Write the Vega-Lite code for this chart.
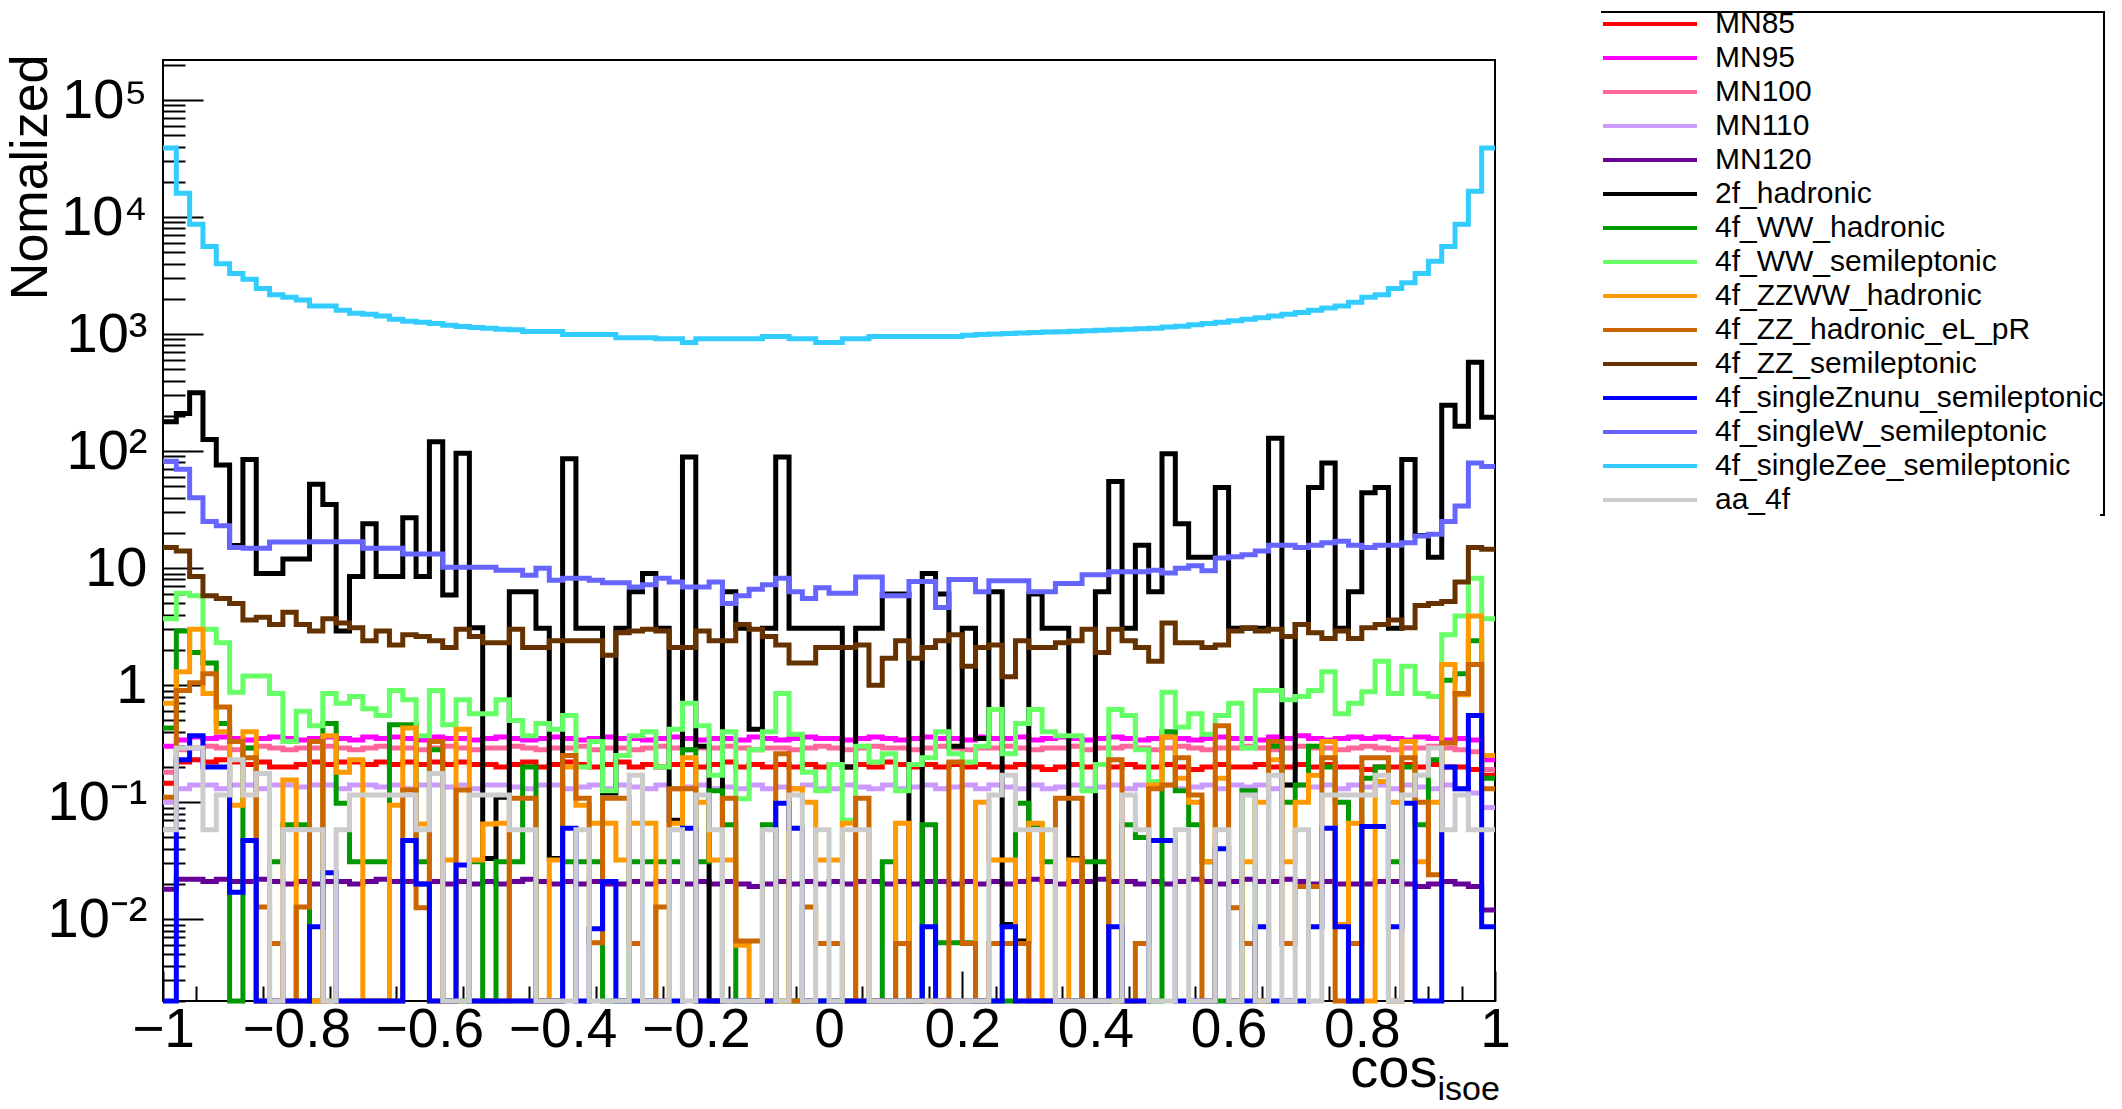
{
"$schema":"https://vega.github.io/schema/vega-lite/v6.json",
"width":1332,"height":941,
"autosize":{"type":"none"},
"padding":{"left":163,"top":60,"right":627,"bottom":108},
"background":"white",
"config":{"view":{"stroke":"black","strokeWidth":2},"font":"Liberation Sans"},
"datasets":{
"names":[{"k":"a","series":"MN85"},{"k":"b","series":"MN95"},{"k":"c","series":"MN100"},{"k":"d","series":"MN110"},{"k":"e","series":"MN120"},{"k":"f","series":"2f_hadronic"},{"k":"g","series":"4f_WW_hadronic"},{"k":"h","series":"4f_WW_semileptonic"},{"k":"i","series":"4f_ZZWW_hadronic"},{"k":"j","series":"4f_ZZ_hadronic_eL_pR"},{"k":"k","series":"4f_ZZ_semileptonic"},{"k":"l","series":"4f_singleZnunu_semileptonic"},{"k":"m","series":"4f_singleW_semileptonic"},{"k":"n","series":"4f_singleZee_semileptonic"},{"k":"o","series":"aa_4f"}],
"hist":[
{"x":-1,"a":0.145,"b":0.3,"c":0.18,"d":0.1,"e":0.018,"f":178,"g":0.43,"h":3.7,"i":0.7,"j":0.11,"k":15,"l":0,"m":82,"n":39000,"o":0.058},
{"x":-0.98,"a":0.22,"b":0.34,"c":0.28,"d":0.13,"e":0.022,"f":210,"g":2.9,"h":6.1,"i":1.3,"j":0.9,"k":14,"l":0.23,"m":70,"n":16000,"o":0.29},
{"x":-0.96,"a":0.23,"b":0.36,"c":0.29,"d":0.14,"e":0.022,"f":315,"g":1.9,"h":5.8,"i":3,"j":1.05,"k":8.5,"l":0.37,"m":40,"n":8700,"o":0.29},
{"x":-0.94,"a":0.22,"b":0.35,"c":0.3,"d":0.14,"e":0.021,"f":126,"g":1.55,"h":3,"i":0.85,"j":1.25,"k":5.8,"l":0.2,"m":25,"n":5600,"o":0.058},
{"x":-0.92,"a":0.23,"b":0.36,"c":0.29,"d":0.13,"e":0.022,"f":76,"g":0.47,"h":2.3,"i":0.4,"j":0.65,"k":5.5,"l":0.2,"m":23,"n":4000,"o":0.115},
{"x":-0.9,"a":0.22,"b":0.35,"c":0.28,"d":0.14,"e":0.021,"f":15.6,"g":0,"h":0.87,"i":0.094,"j":0.33,"k":5,"l":0.017,"m":15,"n":3300,"o":0.23},
{"x":-0.88,"a":0.21,"b":0.34,"c":0.29,"d":0.14,"e":0.021,"f":85,"g":0.29,"h":1.2,"i":0.4,"j":0.24,"k":3.6,"l":0.047,"m":14.8,"n":2950,"o":0.115},
{"x":-0.86,"a":0.22,"b":0.35,"c":0.3,"d":0.13,"e":0.022,"f":9,"g":0,"h":1.2,"i":0,"j":0.0127,"k":3.8,"l":0,"m":14.8,"n":2450,"o":0.176},
{"x":-0.84,"a":0.2,"b":0.36,"c":0.29,"d":0.14,"e":0.021,"f":9,"g":0.031,"h":0.85,"i":0,"j":0.0062,"k":3.3,"l":0,"m":16.7,"n":2170,"o":0},
{"x":-0.82,"a":0.2,"b":0.35,"c":0.28,"d":0.14,"e":0.02,"f":12,"g":0.064,"h":0.33,"i":0.155,"j":0,"k":4.2,"l":0,"m":16.7,"n":2070,"o":0.058},
{"x":-0.8,"a":0.21,"b":0.34,"c":0.29,"d":0.135,"e":0.021,"f":12,"g":0.064,"h":0.6,"i":0,"j":0.0127,"k":3.3,"l":0,"m":16.7,"n":1960,"o":0.058},
{"x":-0.78,"a":0.22,"b":0.35,"c":0.29,"d":0.14,"e":0.02,"f":52,"g":0,"h":0.45,"i":0,"j":0.33,"k":2.9,"l":0.0086,"m":16.8,"n":1740,"o":0.058},
{"x":-0.76,"a":0.21,"b":0.36,"c":0.3,"d":0.14,"e":0.021,"f":35,"g":0.47,"h":0.85,"i":0.37,"j":0,"k":3.7,"l":0.025,"m":16.8,"n":1740,"o":0},
{"x":-0.74,"a":0.22,"b":0.35,"c":0.29,"d":0.13,"e":0.021,"f":2.9,"g":0.098,"h":0.7,"i":0.18,"j":0,"k":3.4,"l":0,"m":16.8,"n":1600,"o":0.058},
{"x":-0.72,"a":0.22,"b":0.34,"c":0.28,"d":0.14,"e":0.02,"f":8.5,"g":0.031,"h":0.8,"i":0.23,"j":0,"k":3.1,"l":0,"m":16.8,"n":1510,"o":0.115},
{"x":-0.7,"a":0.21,"b":0.36,"c":0.29,"d":0.14,"e":0.021,"f":24,"g":0.031,"h":0.63,"i":0,"j":0,"k":2.4,"l":0,"m":14.8,"n":1480,"o":0.115},
{"x":-0.68,"a":0.22,"b":0.35,"c":0.3,"d":0.135,"e":0.022,"f":8.5,"g":0.031,"h":0.55,"i":0,"j":0,"k":2.9,"l":0,"m":14.8,"n":1430,"o":0.115},
{"x":-0.66,"a":0.21,"b":0.36,"c":0.29,"d":0.14,"e":0.021,"f":8.5,"g":0.46,"h":0.9,"i":0.094,"j":0,"k":2.2,"l":0,"m":14.8,"n":1340,"o":0.115},
{"x":-0.64,"a":0.22,"b":0.35,"c":0.29,"d":0.13,"e":0.021,"f":27,"g":0.46,"h":0.75,"i":0.43,"j":0.127,"k":2.7,"l":0.047,"m":13.2,"n":1290,"o":0.115},
{"x":-0.62,"a":0.21,"b":0.34,"c":0.28,"d":0.14,"e":0.02,"f":8.5,"g":0.031,"h":0.37,"i":0.065,"j":0.0125,"k":2.6,"l":0.02,"m":13.2,"n":1260,"o":0.058},
{"x":-0.6,"a":0.22,"b":0.36,"c":0.29,"d":0.14,"e":0.021,"f":120,"g":0.28,"h":0.9,"i":0,"j":0.33,"k":2.4,"l":0,"m":13.2,"n":1230,"o":0.176},
{"x":-0.58,"a":0.21,"b":0.35,"c":0.3,"d":0.135,"e":0.02,"f":5.9,"g":0,"h":0.46,"i":0.032,"j":0,"k":2.1,"l":0,"m":10.2,"n":1190,"o":0},
{"x":-0.56,"a":0.22,"b":0.35,"c":0.29,"d":0.14,"e":0.021,"f":96,"g":0,"h":0.75,"i":0.42,"j":0.127,"k":3,"l":0.029,"m":10.2,"n":1160,"o":0},
{"x":-0.54,"a":0.21,"b":0.34,"c":0.28,"d":0.13,"e":0.02,"f":3.1,"g":0.031,"h":0.57,"i":0.032,"j":0,"k":2.6,"l":0,"m":10.2,"n":1140,"o":0.115},
{"x":-0.52,"a":0.21,"b":0.35,"c":0.29,"d":0.14,"e":0.021,"f":0.033,"g":0,"h":0.57,"i":0.065,"j":0,"k":2.3,"l":0,"m":10.2,"n":1120,"o":0.115},
{"x":-0.5,"a":0.2,"b":0.36,"c":0.29,"d":0.14,"e":0.02,"f":0.11,"g":0.031,"h":0.75,"i":0.066,"j":0,"k":2.3,"l":0,"m":9.6,"n":1100,"o":0.115},
{"x":-0.48,"a":0.21,"b":0.35,"c":0.3,"d":0.135,"e":0.021,"f":6.3,"g":0.031,"h":0.5,"i":0,"j":0.108,"k":3,"l":0,"m":9.6,"n":1090,"o":0.058},
{"x":-0.46,"a":0.22,"b":0.34,"c":0.29,"d":0.13,"e":0.022,"f":6.3,"g":0.2,"h":0.37,"i":0,"j":0.108,"k":2.1,"l":0,"m":8.7,"n":1052,"o":0.058},
{"x":-0.44,"a":0.2,"b":0.35,"c":0.28,"d":0.14,"e":0.021,"f":3.07,"g":0,"h":0.47,"i":0,"j":0,"k":2.1,"l":0,"m":10,"n":1052,"o":0},
{"x":-0.42,"a":0.21,"b":0.36,"c":0.29,"d":0.14,"e":0.02,"f":0.033,"g":0,"h":0.42,"i":0.032,"j":0,"k":2.4,"l":0,"m":7.9,"n":1052,"o":0},
{"x":-0.4,"a":0.22,"b":0.35,"c":0.29,"d":0.13,"e":0.021,"f":86,"g":0.031,"h":0.55,"i":0.2,"j":0.25,"k":2.4,"l":0.06,"m":8.2,"n":992,"o":0},
{"x":-0.38,"a":0.21,"b":0.34,"c":0.3,"d":0.135,"e":0.02,"f":3.07,"g":0.031,"h":0.2,"i":0.094,"j":0.108,"k":2.4,"l":0,"m":8.2,"n":992,"o":0.058},
{"x":-0.36,"a":0.2,"b":0.35,"c":0.28,"d":0.14,"e":0.021,"f":3.07,"g":0.031,"h":0.33,"i":0.066,"j":0.0063,"k":2.4,"l":0.0083,"m":7.9,"n":992,"o":0},
{"x":-0.34,"a":0.21,"b":0.36,"c":0.29,"d":0.13,"e":0.02,"f":0.12,"g":0,"h":0.125,"i":0.066,"j":0.108,"k":1.8,"l":0.021,"m":7.5,"n":992,"o":0},
{"x":-0.32,"a":0.22,"b":0.35,"c":0.29,"d":0.14,"e":0.02,"f":3.07,"g":0,"h":0.25,"i":0.032,"j":0.108,"k":2.8,"l":0,"m":7.5,"n":933,"o":0},
{"x":-0.3,"a":0.2,"b":0.35,"c":0.28,"d":0.135,"e":0.021,"f":6.3,"g":0.031,"h":0.37,"i":0.066,"j":0.0062,"k":2.9,"l":0,"m":6.9,"n":933,"o":0.17},
{"x":-0.28,"a":0.21,"b":0.34,"c":0.29,"d":0.13,"e":0.02,"f":9,"g":0.031,"h":0.4,"i":0.066,"j":0,"k":3,"l":0,"m":7.2,"n":933,"o":0},
{"x":-0.26,"a":0.2,"b":0.35,"c":0.3,"d":0.14,"e":0.021,"f":3.07,"g":0.031,"h":0.2,"i":0,"j":0.0127,"k":2.9,"l":0,"m":8.2,"n":912,"o":0},
{"x":-0.24,"a":0.21,"b":0.36,"c":0.29,"d":0.13,"e":0.021,"f":0.07,"g":0.031,"h":0.42,"i":0.066,"j":0.13,"k":2.1,"l":0,"m":7.6,"n":912,"o":0.058},
{"x":-0.22,"a":0.21,"b":0.35,"c":0.28,"d":0.135,"e":0.02,"f":89,"g":0.28,"h":0.7,"i":0.24,"j":0.13,"k":2.1,"l":0.06,"m":6.9,"n":847,"o":0},
{"x":-0.2,"a":0.2,"b":0.34,"c":0.29,"d":0.14,"e":0.021,"f":0.3,"g":0.031,"h":0.45,"i":0.1,"j":0,"k":2.9,"l":0,"m":6.9,"n":912,"o":0.115},
{"x":-0.18,"a":0.21,"b":0.35,"c":0.29,"d":0.13,"e":0.02,"f":0,"g":0.125,"h":0.17,"i":0.032,"j":0,"k":2.4,"l":0,"m":7.6,"n":912,"o":0.058},
{"x":-0.16,"a":0.22,"b":0.35,"c":0.3,"d":0.135,"e":0.021,"f":6.3,"g":0.064,"h":0.4,"i":0.032,"j":0.108,"k":2.4,"l":0,"m":5,"n":912,"o":0},
{"x":-0.14,"a":0.2,"b":0.34,"c":0.29,"d":0.13,"e":0.02,"f":3.07,"g":0,"h":0.107,"i":0.006,"j":0.0065,"k":3.3,"l":0,"m":5.8,"n":912,"o":0},
{"x":-0.12,"a":0.21,"b":0.36,"c":0.28,"d":0.14,"e":0.019,"f":0.42,"g":0,"h":0.28,"i":0,"j":0.0065,"k":3,"l":0,"m":6.6,"n":912,"o":0},
{"x":-0.1,"a":0.2,"b":0.35,"c":0.29,"d":0.13,"e":0.02,"f":3.07,"g":0.064,"h":0.4,"i":0,"j":0,"k":2.6,"l":0,"m":7.2,"n":955,"o":0.058},
{"x":-0.08,"a":0.21,"b":0.34,"c":0.29,"d":0.135,"e":0.021,"f":89,"g":0,"h":0.85,"i":0,"j":0.26,"k":2.2,"l":0.098,"m":8.2,"n":955,"o":0},
{"x":-0.06,"a":0.2,"b":0.35,"c":0.28,"d":0.13,"e":0.02,"f":3.07,"g":0,"h":0.38,"i":0.13,"j":0,"k":1.55,"l":0.06,"m":6.3,"n":912,"o":0.115},
{"x":-0.04,"a":0.21,"b":0.36,"c":0.29,"d":0.14,"e":0.021,"f":3.07,"g":0,"h":0.18,"i":0.1,"j":0.0127,"k":1.55,"l":0,"m":5.5,"n":912,"o":0},
{"x":-0.02,"a":0.2,"b":0.35,"c":0.3,"d":0.13,"e":0.02,"f":3.07,"g":0,"h":0.125,"i":0.032,"j":0.0062,"k":2.1,"l":0,"m":6.8,"n":847,"o":0.058},
{"x":0,"a":0.21,"b":0.35,"c":0.29,"d":0.13,"e":0.021,"f":3.07,"g":0,"h":0.21,"i":0.032,"j":0.0062,"k":2.1,"l":0,"m":6.1,"n":847,"o":0},
{"x":0.02,"a":0.2,"b":0.34,"c":0.28,"d":0.14,"e":0.02,"f":0.2,"g":0,"h":0.07,"i":0.066,"j":0,"k":2.1,"l":0,"m":6.1,"n":912,"o":0.058},
{"x":0.04,"a":0.21,"b":0.35,"c":0.29,"d":0.135,"e":0.021,"f":3.07,"g":0,"h":0.3,"i":0,"j":0.108,"k":2.2,"l":0,"m":8.4,"n":912,"o":0.058},
{"x":0.06,"a":0.2,"b":0.36,"c":0.3,"d":0.13,"e":0.021,"f":3.07,"g":0,"h":0.22,"i":0,"j":0,"k":1,"l":0,"m":8.4,"n":955,"o":0},
{"x":0.08,"a":0.22,"b":0.35,"c":0.29,"d":0.14,"e":0.02,"f":6,"g":0.031,"h":0.26,"i":0,"j":0,"k":1.7,"l":0,"m":5.8,"n":955,"o":0},
{"x":0.1,"a":0.21,"b":0.34,"c":0.29,"d":0.13,"e":0.021,"f":6,"g":0,"h":0.125,"i":0.066,"j":0.0062,"k":2.4,"l":0,"m":5.8,"n":955,"o":0},
{"x":0.12,"a":0.2,"b":0.35,"c":0.28,"d":0.135,"e":0.02,"f":0,"g":0,"h":0.21,"i":0,"j":0,"k":1.7,"l":0,"m":7.7,"n":955,"o":0},
{"x":0.14,"a":0.21,"b":0.36,"c":0.29,"d":0.14,"e":0.021,"f":9,"g":0.064,"h":0.24,"i":0,"j":0,"k":2.1,"l":0.0086,"m":7.7,"n":955,"o":0},
{"x":0.16,"a":0.2,"b":0.35,"c":0.3,"d":0.13,"e":0.021,"f":6,"g":0.0063,"h":0.4,"i":0,"j":0,"k":2.4,"l":0,"m":4.6,"n":955,"o":0},
{"x":0.18,"a":0.21,"b":0.35,"c":0.29,"d":0.135,"e":0.02,"f":0.3,"g":0.0063,"h":0.26,"i":0,"j":0.22,"k":2.7,"l":0,"m":8,"n":955,"o":0},
{"x":0.2,"a":0.2,"b":0.34,"c":0.28,"d":0.14,"e":0.021,"f":3.07,"g":0.0063,"h":0.22,"i":0,"j":0.0062,"k":1.45,"l":0,"m":8,"n":980,"o":0},
{"x":0.22,"a":0.21,"b":0.36,"c":0.29,"d":0.13,"e":0.02,"f":0.35,"g":0,"h":0.3,"i":0.1,"j":0,"k":2.1,"l":0,"m":6.3,"n":990,"o":0},
{"x":0.24,"a":0.2,"b":0.35,"c":0.29,"d":0.14,"e":0.021,"f":6.3,"g":0,"h":0.62,"i":0.032,"j":0.0062,"k":2.2,"l":0,"m":7.8,"n":1000,"o":0.115},
{"x":0.26,"a":0.2,"b":0.35,"c":0.3,"d":0.135,"e":0.02,"f":0.009,"g":0,"h":0.26,"i":0.032,"j":0.0062,"k":1.18,"l":0.0086,"m":7.8,"n":1010,"o":0.17},
{"x":0.28,"a":0.21,"b":0.36,"c":0.29,"d":0.13,"e":0.021,"f":0.0065,"g":0.098,"h":0.47,"i":0,"j":0.0062,"k":2.4,"l":0,"m":7.8,"n":1020,"o":0.058},
{"x":0.3,"a":0.2,"b":0.34,"c":0.28,"d":0.14,"e":0.022,"f":6,"g":0.064,"h":0.62,"i":0.066,"j":0,"k":2.1,"l":0,"m":6.3,"n":1030,"o":0.058},
{"x":0.32,"a":0.19,"b":0.35,"c":0.29,"d":0.13,"e":0.021,"f":3.07,"g":0.031,"h":0.4,"i":0,"j":0,"k":2.1,"l":0,"m":6.3,"n":1040,"o":0.058},
{"x":0.34,"a":0.2,"b":0.36,"c":0.29,"d":0.135,"e":0.02,"f":3.07,"g":0,"h":0.37,"i":0,"j":0.108,"k":2.3,"l":0,"m":7.4,"n":1050,"o":0},
{"x":0.36,"a":0.21,"b":0.35,"c":0.3,"d":0.14,"e":0.021,"f":0.033,"g":0,"h":0.37,"i":0.032,"j":0.108,"k":2.4,"l":0,"m":7.4,"n":1060,"o":0},
{"x":0.38,"a":0.2,"b":0.34,"c":0.28,"d":0.13,"e":0.021,"f":0,"g":0.031,"h":0.125,"i":0,"j":0,"k":3,"l":0,"m":8.8,"n":1070,"o":0},
{"x":0.4,"a":0.21,"b":0.35,"c":0.29,"d":0.135,"e":0.022,"f":6.3,"g":0.031,"h":0.21,"i":0,"j":0,"k":1.9,"l":0,"m":8.8,"n":1080,"o":0},
{"x":0.42,"a":0.2,"b":0.36,"c":0.29,"d":0.14,"e":0.021,"f":55,"g":0,"h":0.62,"i":0,"j":0.23,"k":3,"l":0.0086,"m":9.3,"n":1090,"o":0},
{"x":0.44,"a":0.21,"b":0.35,"c":0.3,"d":0.13,"e":0.021,"f":3.07,"g":0.064,"h":0.55,"i":0,"j":0,"k":2.4,"l":0,"m":9.3,"n":1100,"o":0.115},
{"x":0.46,"a":0.2,"b":0.34,"c":0.29,"d":0.14,"e":0.02,"f":15.7,"g":0.05,"h":0.28,"i":0,"j":0.0062,"k":2.1,"l":0,"m":9.3,"n":1110,"o":0.058},
{"x":0.48,"a":0.2,"b":0.35,"c":0.28,"d":0.135,"e":0.021,"f":6.3,"g":0,"h":0.15,"i":0.14,"j":0.13,"k":1.6,"l":0.047,"m":9.6,"n":1120,"o":0},
{"x":0.5,"a":0.21,"b":0.36,"c":0.29,"d":0.14,"e":0.02,"f":95,"g":0.4,"h":0.87,"i":0.36,"j":0.14,"k":3.4,"l":0.047,"m":9.1,"n":1150,"o":0},
{"x":0.52,"a":0.2,"b":0.35,"c":0.3,"d":0.13,"e":0.021,"f":24,"g":0.125,"h":0.44,"i":0.16,"j":0.24,"k":2.3,"l":0,"m":10,"n":1170,"o":0.058},
{"x":0.54,"a":0.19,"b":0.34,"c":0.29,"d":0.135,"e":0.022,"f":12.4,"g":0.064,"h":0.57,"i":0.1,"j":0.115,"k":2.3,"l":0,"m":10.5,"n":1200,"o":0},
{"x":0.56,"a":0.2,"b":0.35,"c":0.28,"d":0.14,"e":0.021,"f":12.4,"g":0.031,"h":0.38,"i":0.031,"j":0,"k":2.1,"l":0,"m":9.5,"n":1230,"o":0},
{"x":0.58,"a":0.21,"b":0.36,"c":0.29,"d":0.13,"e":0.02,"f":49,"g":0,"h":0.55,"i":0.16,"j":0.45,"k":2.2,"l":0.04,"m":12.2,"n":1260,"o":0.058},
{"x":0.6,"a":0.2,"b":0.35,"c":0.29,"d":0.14,"e":0.021,"f":3.07,"g":0,"h":0.7,"i":0,"j":0.0125,"k":2.9,"l":0,"m":12.5,"n":1300,"o":0},
{"x":0.62,"a":0.2,"b":0.35,"c":0.3,"d":0.135,"e":0.022,"f":3.07,"g":0.125,"h":0.29,"i":0.031,"j":0.0062,"k":3.1,"l":0,"m":13,"n":1340,"o":0.115},
{"x":0.64,"a":0.21,"b":0.34,"c":0.29,"d":0.14,"e":0.021,"f":3.07,"g":0,"h":0.9,"i":0.1,"j":0,"k":2.9,"l":0.0086,"m":14,"n":1380,"o":0},
{"x":0.66,"a":0.2,"b":0.36,"c":0.28,"d":0.13,"e":0.021,"f":129,"g":0.3,"h":0.9,"i":0.23,"j":0.33,"k":3,"l":0,"m":15.7,"n":1430,"o":0.17},
{"x":0.68,"a":0.2,"b":0.35,"c":0.29,"d":0.14,"e":0.022,"f":0.14,"g":0.1,"h":0.75,"i":0.031,"j":0.0062,"k":2.6,"l":0,"m":15.7,"n":1480,"o":0},
{"x":0.7,"a":0.21,"b":0.37,"c":0.3,"d":0.14,"e":0.021,"f":3.3,"g":0.14,"h":0.8,"i":0.1,"j":0.019,"k":3.3,"l":0,"m":15,"n":1530,"o":0.058},
{"x":0.72,"a":0.2,"b":0.35,"c":0.29,"d":0.135,"e":0.02,"f":49,"g":0.3,"h":0.9,"i":0.17,"j":0.019,"k":2.8,"l":0.0086,"m":15.7,"n":1600,"o":0},
{"x":0.74,"a":0.21,"b":0.34,"c":0.29,"d":0.14,"e":0.021,"f":79,"g":0.2,"h":1.3,"i":0.33,"j":0.24,"k":2.5,"l":0.06,"m":16.5,"n":1670,"o":0.115},
{"x":0.76,"a":0.2,"b":0.35,"c":0.28,"d":0.13,"e":0.02,"f":3.07,"g":0.1,"h":0.57,"i":0.009,"j":0,"k":2.9,"l":0.0086,"m":17,"n":1740,"o":0.115},
{"x":0.78,"a":0.2,"b":0.36,"c":0.29,"d":0.14,"e":0.02,"f":6.3,"g":0,"h":0.7,"i":0.066,"j":0.0062,"k":2.5,"l":0,"m":15.7,"n":1870,"o":0.115},
{"x":0.8,"a":0.19,"b":0.35,"c":0.3,"d":0.135,"e":0.02,"f":44,"g":0.16,"h":0.88,"i":0,"j":0.24,"k":3.1,"l":0.062,"m":15,"n":2070,"o":0.115},
{"x":0.82,"a":0.2,"b":0.36,"c":0.29,"d":0.14,"e":0.021,"f":49,"g":0.2,"h":1.6,"i":0.15,"j":0.24,"k":3.3,"l":0.062,"m":15.7,"n":2170,"o":0.17},
{"x":0.84,"a":0.2,"b":0.35,"c":0.28,"d":0.13,"e":0.021,"f":3.07,"g":0.031,"h":0.85,"i":0.1,"j":0,"k":3.6,"l":0.0086,"m":15.7,"n":2450,"o":0},
{"x":0.86,"a":0.21,"b":0.34,"c":0.29,"d":0.14,"e":0.02,"f":85,"g":0.2,"h":1.45,"i":0.33,"j":0.24,"k":3.1,"l":0.098,"m":16.5,"n":2750,"o":0.115},
{"x":0.88,"a":0.2,"b":0.36,"c":0.29,"d":0.135,"e":0.019,"f":19,"g":0.064,"h":0.85,"i":0.031,"j":0.1,"k":4.8,"l":0,"m":18.8,"n":3300,"o":0.17},
{"x":0.9,"a":0.21,"b":0.35,"c":0.3,"d":0.13,"e":0.02,"f":12.4,"g":0.23,"h":0.8,"i":0.1,"j":0.024,"k":5,"l":0,"m":19.5,"n":4200,"o":0.29},
{"x":0.92,"a":0.2,"b":0.34,"c":0.29,"d":0.14,"e":0.021,"f":247,"g":1.1,"h":2.7,"i":1.5,"j":0.32,"k":5.2,"l":0.2,"m":25,"n":5600,"o":0.058},
{"x":0.94,"a":0.2,"b":0.35,"c":0.28,"d":0.13,"e":0.02,"f":163,"g":1.25,"h":3.9,"i":0.83,"j":0.85,"k":7.6,"l":0.13,"m":34,"n":8700,"o":0.115},
{"x":0.96,"a":0.19,"b":0.34,"c":0.27,"d":0.12,"e":0.019,"f":575,"g":2.4,"h":8.2,"i":3.9,"j":1.5,"k":15,"l":0.55,"m":79,"n":16600,"o":0.058},
{"x":0.98,"a":0.17,"b":0.23,"c":0.19,"d":0.09,"e":0.012,"f":195,"g":0.16,"h":3.7,"i":0.25,"j":0.13,"k":14.5,"l":0.0086,"m":74,"n":39000,"o":0.058},
{"x":1,"a":0.17,"b":0.23,"c":0.19,"d":0.09,"e":0.012,"f":195,"g":0.16,"h":3.7,"i":0.25,"j":0.13,"k":14.5,"l":0.0086,"m":74,"n":39000,"o":0.058}
]},
"data":{"name":"hist"},
"transform":[
{"fold":["a","b","c","d","e","f","g","h","i","j","k","l","m","n","o"],"as":["key","value"]},
{"lookup":"key","from":{"data":{"name":"names"},"key":"k","fields":["series"]}}
],
"layer":[
{"mark":{"type":"line","interpolate":"step-after","strokeWidth":5,"invalid":"show"},
 "encoding":{
  "x":{"field":"x","type":"quantitative","scale":{"domain":[-1,1],"nice":false,"zero":false},
   "axis":{"values":[-1,-0.8,-0.6,-0.4,-0.2,0,0.2,0.4,0.6,0.8,1],"format":".1~f","tickSize":-30,"tickWidth":2,"tickColor":"black","domain":false,"grid":false,
    "labelFontSize":55,"labelFont":"Liberation Sans","labelColor":"black","labelPadding":32,"labelFlush":false,"labelOverlap":false,
    "title":"cos","titleFont":"Liberation Sans","titleFontSize":56,"titleFontWeight":"normal","titleColor":"black","titleX":1274,"titleY":85,"titleAlign":"right","titleBaseline":"alphabetic"}},
  "y":{"field":"value","type":"quantitative","scale":{"type":"log","domain":[0.002,220000],"clamp":true,"nice":false},
   "axis":{"values":[0.01,0.1,1,10,100,1000,10000,100000],"tickSize":-40,"tickWidth":2,"tickColor":"black","domain":false,"grid":false,
    "labelFontSize":56,"labelFont":"Liberation Sans","labelColor":"black","labelPadding":56,"labelFlush":false,"labelOverlap":false,
    "labelExpr":"datum.value >= 99999 ? '10⁵' : datum.value >= 9999 ? '10⁴' : datum.value >= 999 ? '10³' : datum.value >= 99 ? '10²' : datum.value >= 9 ? '10' : datum.value >= 0.9 ? '1' : datum.value >= 0.09 ? '10⁻¹' : '10⁻²'",
    "title":"Nomalized","titleFont":"Liberation Sans","titleFontSize":52,"titleFontWeight":"normal","titleColor":"black","titleAngle":270,"titleX":-158,"titleY":-6,"titleAlign":"right","titleBaseline":"top"}},
  "color":{"field":"series","type":"nominal",
   "scale":{"domain":["MN85","MN95","MN100","MN110","MN120","2f_hadronic","4f_WW_hadronic","4f_WW_semileptonic","4f_ZZWW_hadronic","4f_ZZ_hadronic_eL_pR","4f_ZZ_semileptonic","4f_singleZnunu_semileptonic","4f_singleW_semileptonic","4f_singleZee_semileptonic","aa_4f"],
    "range":["#ff0000","#ff00ff","#ff6699","#cc99ff","#660099","#000000","#009900","#66ff66","#ff9900","#cc6600","#663300","#0000ff","#6666ff","#33ccff","#cccccc"]},
   "legend":{"orient":"none","legendX":1438,"legendY":-48,"title":null,"symbolType":"stroke","symbolSize":8836,"symbolStrokeWidth":4,"clipHeight":24,"rowPadding":4,
    "labelFontSize":30,"labelFont":"Liberation Sans","labelColor":"black","labelOffset":16,"labelLimit":1000,"padding":0,"strokeColor":"black",
    "encode":{"legend":{"update":{"strokeDash":{"value":[1010,4000]},"strokeWidth":{"value":2}}}}}}
 }},
{"mark":{"type":"point","opacity":0},
 "encoding":{
  "x":{"field":"x","type":"quantitative",
   "axis":{"orient":"bottom","values":[-0.95,-0.9,-0.85,-0.75,-0.7,-0.65,-0.55,-0.5,-0.45,-0.35,-0.3,-0.25,-0.15,-0.1,-0.05,0.05,0.1,0.15,0.25,0.3,0.35,0.45,0.5,0.55,0.65,0.7,0.75,0.85,0.9,0.95],
    "tickSize":-15,"tickWidth":2,"tickColor":"black","labels":false,"domain":false,"grid":false,
    "title":"isoe","titleFont":"Liberation Sans","titleFontSize":34,"titleFontWeight":"normal","titleColor":"black","titleX":1274,"titleY":98,"titleAlign":"left","titleBaseline":"alphabetic"}},
  "y":{"field":"value","type":"quantitative",
   "axis":{"orient":"left","values":[0.002,0.003,0.004,0.005,0.006,0.007,0.008,0.009,0.02,0.03,0.04,0.05,0.06,0.07,0.08,0.09,0.2,0.3,0.4,0.5,0.6,0.7,0.8,0.9,2,3,4,5,6,7,8,9,20,30,40,50,60,70,80,90,200,300,400,500,600,700,800,900,2000,3000,4000,5000,6000,7000,8000,9000,20000,30000,40000,50000,60000,70000,80000,90000,200000],
    "tickSize":-22,"tickWidth":2,"tickColor":"black","labels":false,"domain":false,"grid":false,"title":null}}
 }}
],
"resolve":{"axis":{"x":"independent","y":"independent"}}
}
